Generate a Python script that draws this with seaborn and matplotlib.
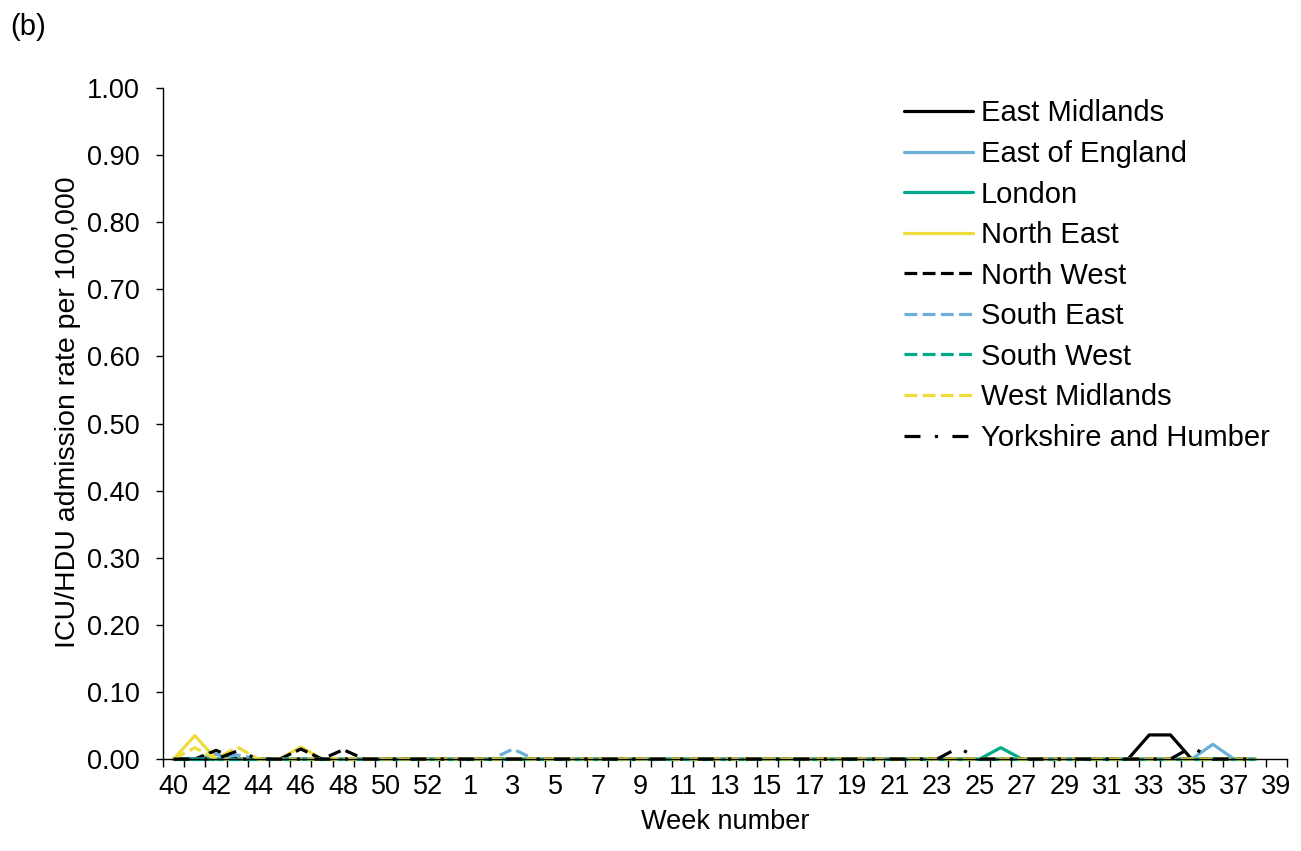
import pandas as pd
import numpy as np
import matplotlib
matplotlib.use('Agg')
import matplotlib.pyplot as plt
import seaborn as sns

# Semanas: 40-53 y luego 1-39
weeks = [40, 41, 42, 43, 44, 45, 46, 47, 48, 49, 50, 51, 52, 53,
         1, 2, 3, 4, 5, 6, 7, 8, 9, 10, 11, 12, 13, 14, 15, 16, 17, 18, 19, 20,
         21, 22, 23, 24, 25, 26, 27, 28, 29, 30, 31, 32, 33, 34, 35, 36, 37, 38, 39]

N = None
east_midlands = [0, 0, 0, 0, 0, 0, 0, 0, 0, 0, 0, 0, 0, 0,
                 0, 0, 0, 0, 0, 0, 0, 0, 0, 0, 0, 0, 0, 0, 0, 0, 0, 0, 0, 0,
                 0, 0, 0, 0, 0, 0, 0, 0, 0, 0, 0, 0, 0.036, 0.036, 0, 0, 0, 0, N]
east_of_england = [0, 0, 0.007, 0, 0, 0, 0, 0, 0, 0, 0, 0, 0, 0,
                   0, 0, 0, 0, 0, 0, 0, 0, 0, 0, 0, 0, 0, 0, 0, 0, 0, 0, 0, 0,
                   0, 0, 0, 0, 0, 0, 0, 0, 0, 0, 0, 0, 0, 0, 0, 0.022, 0, 0, N]
london = [0, 0, 0, 0, 0, 0, 0, 0, 0, 0, 0, 0, 0, 0,
          0, 0, 0, 0, 0, 0, 0, 0, 0, 0, 0, 0, 0, 0, 0, 0, 0, 0, 0, 0,
          0, 0, 0, 0, 0, 0.017, 0, 0, 0, 0, 0, 0, 0, 0, 0, 0, 0, 0, N]
north_east = [0, 0.035, 0, 0, 0, 0, 0.018, 0, 0, 0, 0, 0, 0, 0,
              0, 0, 0, 0, 0, 0, 0, 0, 0, 0, 0, 0, 0, 0, 0, 0, 0, 0, 0, 0,
              0, 0, 0, 0, 0, 0, 0, 0, 0, 0, 0, 0, 0, 0, 0, 0, 0, 0, N]
north_west = [0, 0, 0.013, 0, 0, 0, 0.015, 0, 0.014, 0, 0, 0, 0, 0,
              0, 0, 0, 0, 0, 0, 0, 0, 0, 0, 0, 0, 0, 0, 0, 0, 0, 0, 0, 0,
              0, 0, 0, 0, 0, 0, 0, 0, 0, 0, 0, 0, 0, 0, 0, 0, 0, 0, N]
south_east = [0, 0, 0, 0.006, 0, 0, 0, 0, 0, 0, 0, 0, 0, 0,
              0, 0, 0.015, 0, 0, 0, 0, 0, 0, 0, 0, 0, 0, 0, 0, 0, 0, 0, 0, 0,
              0, 0, 0, 0, 0, 0, 0, 0, 0, 0, 0, 0, 0, 0, 0, 0, 0, 0, N]
south_west = [0, 0, 0, 0, 0, 0, 0, 0, 0, 0, 0, 0, 0, 0,
              0, 0, 0, 0, 0, 0, 0, 0, 0, 0, 0, 0, 0, 0, 0, 0, 0, 0, 0, 0,
              0, 0, 0, 0, 0, 0, 0, 0, 0, 0, 0, 0, 0, 0, 0, 0, 0, 0, N]
west_midlands = [0, 0.017, 0, 0.018, 0, 0, 0, 0, 0, 0, 0, 0, 0, 0,
                 0, 0, 0, 0, 0, 0, 0, 0, 0, 0, 0, 0, 0, 0, 0, 0, 0, 0, 0, 0,
                 0, 0, 0, 0, 0, 0, 0, 0, 0, 0, 0, 0, 0, 0, 0, 0, 0, 0, N]
yorkshire = [0, 0, 0, 0.012, 0, 0, 0, 0, 0, 0, 0, 0, 0, 0,
             0, 0, 0, 0, 0, 0, 0, 0, 0, 0, 0, 0, 0, 0, 0, 0, 0, 0, 0, 0,
             0, 0, 0, 0.017, 0, 0, 0, 0, 0, 0, 0, 0, 0, 0, 0.018, 0, 0, 0, N]

regions = ['East Midlands', 'East of England', 'London', 'North East', 'North West',
           'South East', 'South West', 'West Midlands', 'Yorkshire and Humber']
series = [east_midlands, east_of_england, london, north_east, north_west,
          south_east, south_west, west_midlands, yorkshire]

colores = {'East Midlands': 'black', 'East of England': '#6BAED8', 'London': '#00A98A',
           'North East': '#EEDC3C', 'North West': 'black', 'South East': '#6BAED8',
           'South West': '#00A98A', 'West Midlands': '#EEDC3C', 'Yorkshire and Humber': 'black'}
guiones = {'East Midlands': '', 'East of England': '', 'London': '', 'North East': '',
           'North West': (4, 1.7), 'South East': (4, 1.7), 'South West': (4, 1.7),
           'West Midlands': (4, 1.7), 'Yorkshire and Humber': (5, 4.5, 1, 4.5)}

# Formato largo para seaborn
filas = []
for reg, vals in zip(regions, series):
    for i, v in enumerate(vals):
        filas.append({'idx': i, 'rate': np.nan if v is None else v, 'region': reg})
df = pd.DataFrame(filas)

sns.set_style('ticks')
plt.rcParams['font.family'] = ['Liberation Sans', 'DejaVu Sans']
plt.rcParams['font.size'] = 19.5
plt.rcParams['text.color'] = 'black'
plt.rcParams['axes.labelcolor'] = 'black'
plt.rcParams['xtick.color'] = 'black'
plt.rcParams['ytick.color'] = 'black'

fig = plt.figure(figsize=(13.01, 8.51), dpi=100)
ax = fig.add_axes([0.1253, 0.108, 0.864, 0.7886])

sns.lineplot(data=df, x='idx', y='rate', hue='region', style='region',
             hue_order=regions, style_order=regions,
             palette=colores, dashes=guiones, linewidth=2.3, ax=ax)
for ln in ax.lines:
    ln.set_clip_on(False)

ax.set_xlim(-0.5, len(weeks) - 0.5)
ax.set_ylim(0, 1)
ax.set_yticks(np.arange(0, 1.01, 0.1))
ax.set_yticklabels(['%.2f' % v for v in np.arange(0, 1.01, 0.1)])
ax.set_xticks(range(0, len(weeks), 2))
ax.set_xticklabels([str(weeks[i]) for i in range(0, len(weeks), 2)])
ax.set_xticks(np.arange(-0.5, len(weeks), 1), minor=True)
ax.tick_params(axis='x', which='major', length=0, pad=11, labelsize=19.5, labelcolor='black')
ax.tick_params(axis='x', which='minor', length=6, width=1, color='black')
ax.tick_params(axis='y', length=5, width=1, pad=12, labelsize=19.5, labelcolor='black', color='black')
sns.despine(ax=ax)
for s in ['left', 'bottom']:
    ax.spines[s].set_color('black')
    ax.spines[s].set_linewidth(1)

ax.set_xlabel('Week number', fontsize=19.5, labelpad=6, color='black')
ax.set_ylabel('ICU/HDU admission rate per 100,000', fontsize=20.5, labelpad=4, color='black')
ax.yaxis.label.set_y(0.517)

handles, labels = ax.get_legend_handles_labels()
for h in handles:
    h.set_linewidth(2.3)
leg = ax.legend(handles, labels, loc='upper right', bbox_to_anchor=(0.996, 0.914),
                bbox_transform=fig.transFigure, frameon=False, fontsize=21,
                handlelength=2.36, handletextpad=0.27, labelspacing=0.43)
for t in leg.get_texts():
    t.set_color('black')

fig.text(0.008, 0.985, '(b)', fontsize=21, va='top', ha='left', color='black')

plt.savefig('out.png', dpi=100)
plt.close()
